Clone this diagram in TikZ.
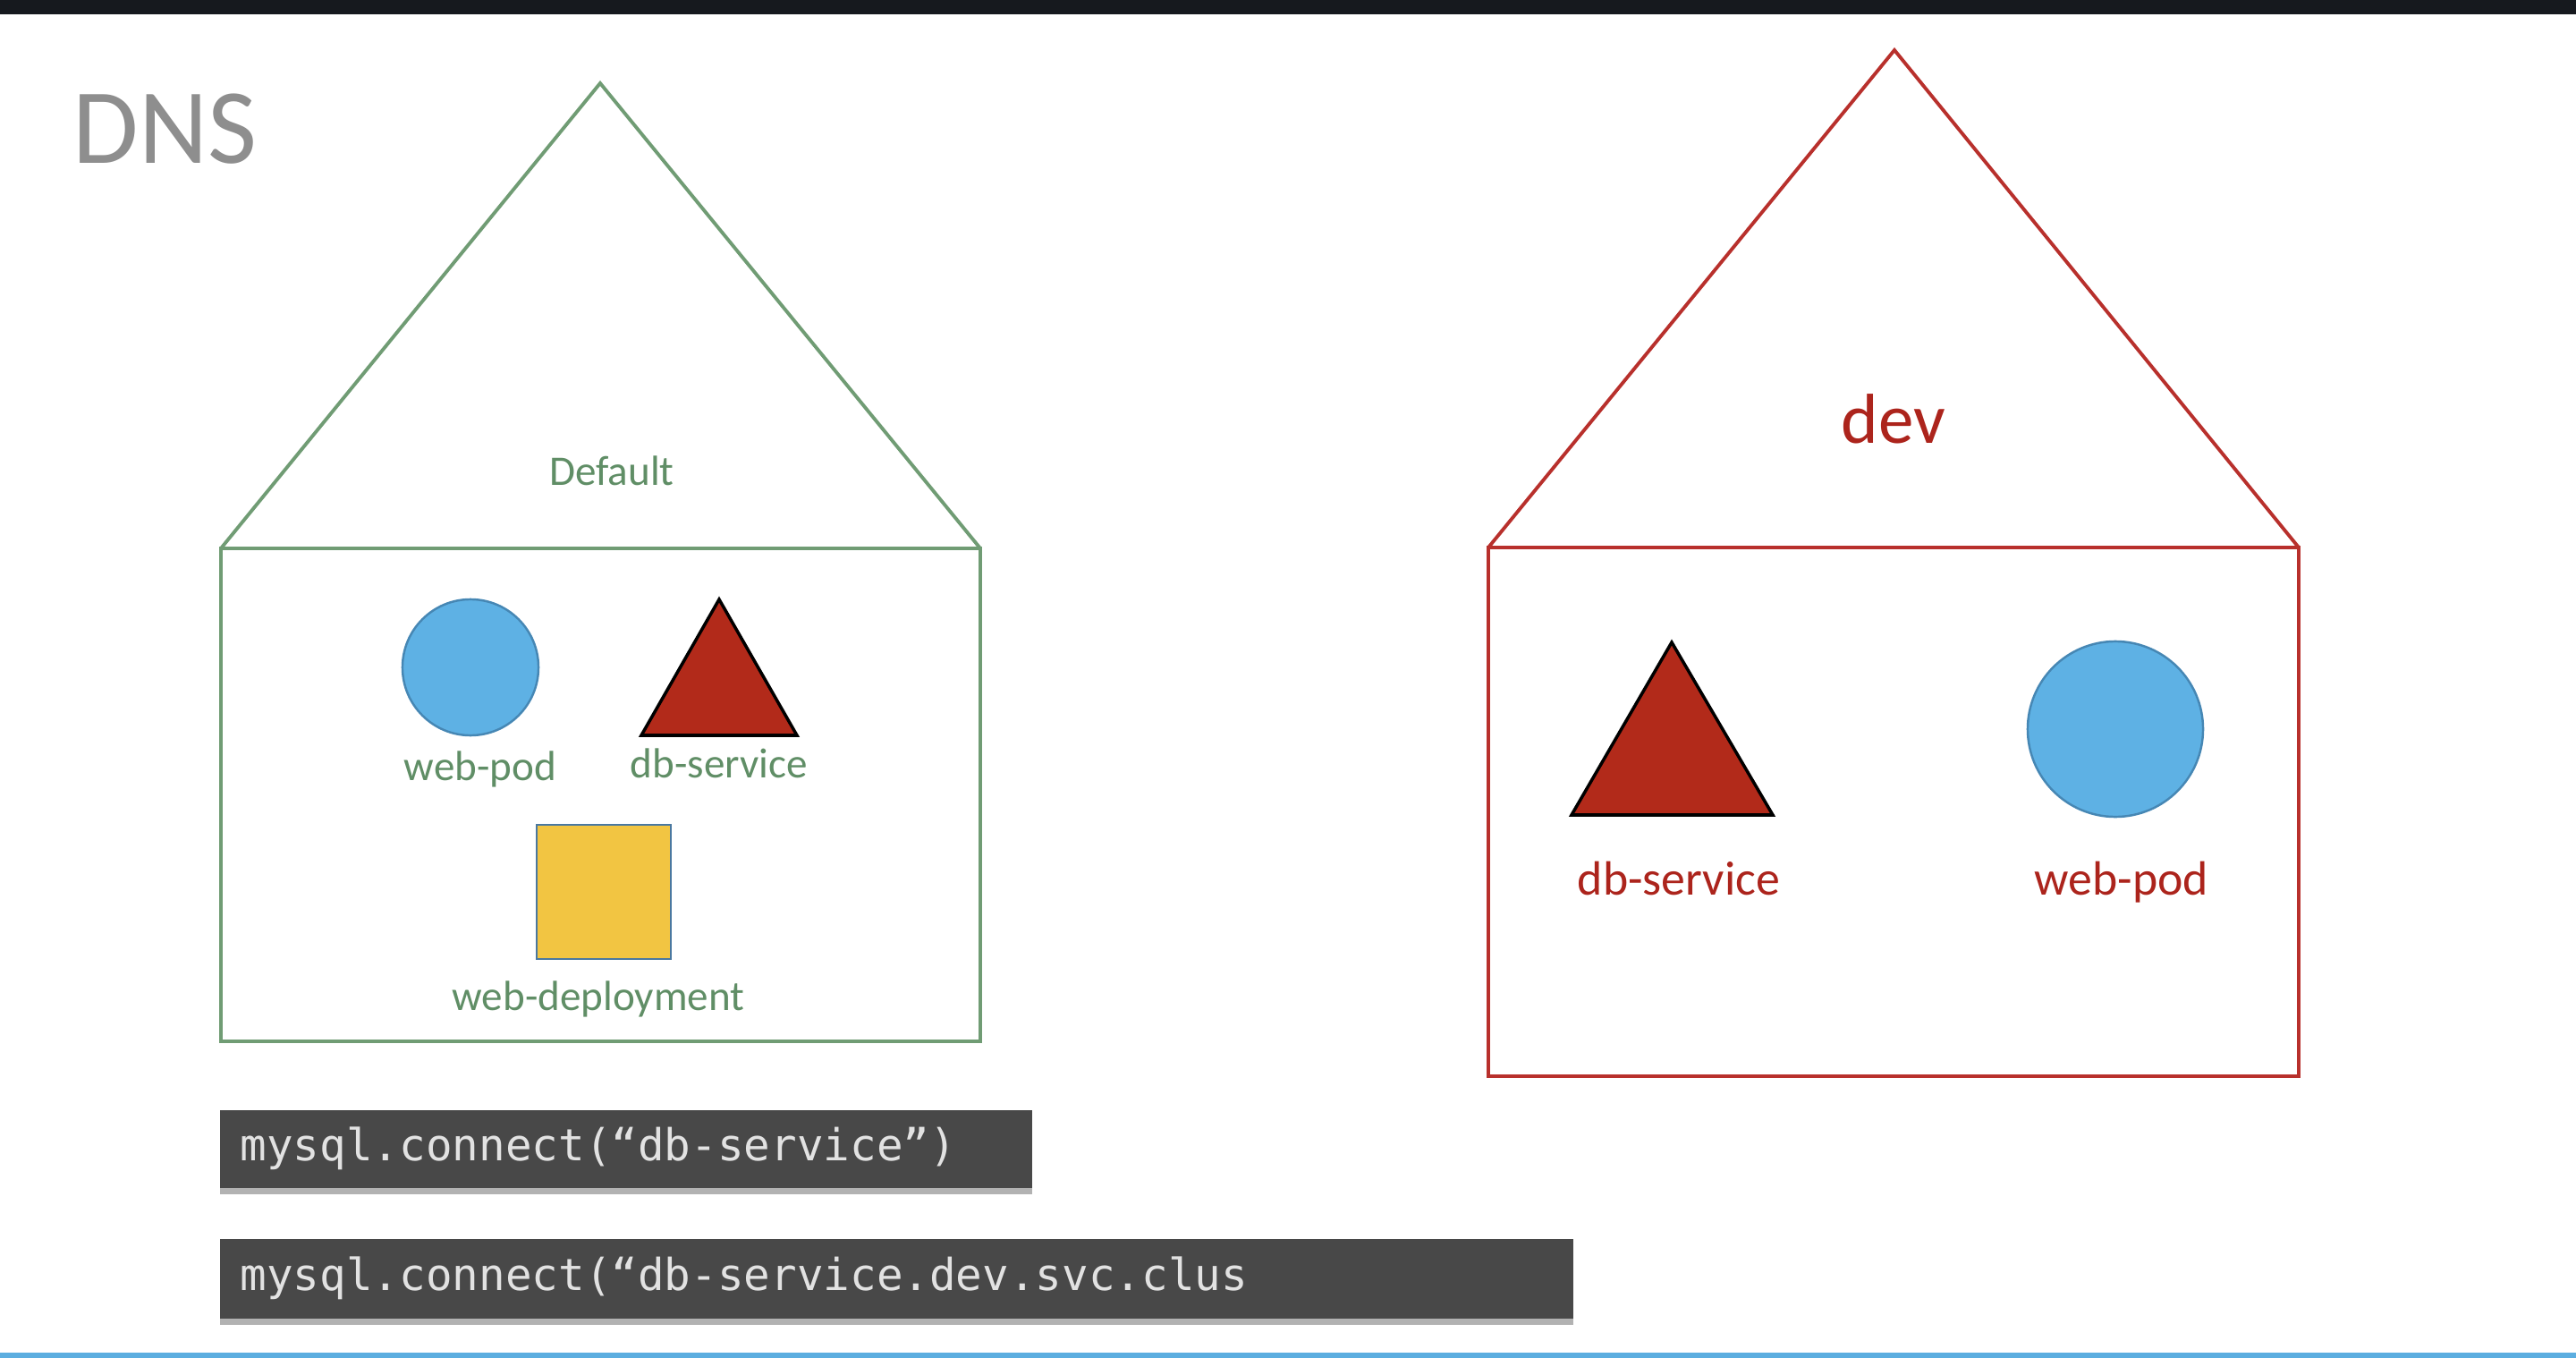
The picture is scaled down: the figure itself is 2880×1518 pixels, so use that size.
\documentclass[tikz,border=0pt]{standalone}
\usepackage{fontspec}
\setmainfont{Carlito}
\setmonofont{DejaVu Sans Mono}
\usetikzlibrary{shadows}

\definecolor{nsgreen}{RGB}{112,156,116}
\definecolor{nsgreentext}{RGB}{96,142,102}
\definecolor{nsred}{RGB}{184,48,44}
\definecolor{nsredtext}{RGB}{172,36,28}
\definecolor{podblue}{RGB}{94,177,228}
\definecolor{podedge}{RGB}{70,135,180}
\definecolor{svcred}{RGB}{178,42,26}
\definecolor{depyellow}{RGB}{242,197,66}
\definecolor{depedge}{RGB}{74,120,160}
\definecolor{codebg}{RGB}{72,72,72}
\definecolor{codefg}{RGB}{226,226,226}
\definecolor{bardark}{RGB}{22,25,30}
\definecolor{barblue}{RGB}{92,174,224}
\definecolor{titlegray}{RGB}{142,142,142}

\tikzset{
  nsline/.style={line width=1.1pt, line join=miter},
  podshape/.style={circle, fill=podblue, draw=podedge, line width=0.7pt, inner sep=0pt},
  svcshape/.style={fill=svcred, draw=black, line width=1pt, line join=miter},
  depshape/.style={rectangle, fill=depyellow, draw=depedge, line width=0.8pt, inner sep=0pt},
  smalllabel/.style={anchor=base, inner sep=0pt, text=nsgreentext, font=\fontsize{13.4}{16}\selectfont},
  biglabel/.style={anchor=base, inner sep=0pt, text=nsredtext, font=\fontsize{15.3}{18}\selectfont},
  codebox/.style={anchor=north west, fill=codebg, text=codefg, align=left,
    inner xsep=0.23cm, inner ysep=0pt, font=\ttfamily\fontsize{14}{17}\selectfont,
    drop shadow={shadow xshift=0pt, shadow yshift=-0.07cm, opacity=0.3, fill=black}}
}

\begin{document}
\begin{tikzpicture}[x=0.01cm, y=-0.01cm]
\useasboundingbox (0,0) rectangle (2880,1518);

% frame bars
\fill[bardark] (0,0) rectangle (2880,16);
\fill[barblue] (0,1512) rectangle (2880,1518);

% title
\node[anchor=base west, inner sep=0pt, text=titlegray, font=\fontsize{34}{40}\selectfont] (title) at (81,182) {DNS};

% default namespace house
\coordinate (defApex) at (671,93);
\coordinate (defTL) at (247,613);
\coordinate (defBR) at (1096,1164);
\draw[nsline, draw=nsgreen] (defTL) -- (defApex) -- (defTL -| defBR);
\draw[nsline, draw=nsgreen] (defTL) rectangle (defBR);
\node[smalllabel] (defName) at (684,542) {Default};

\node[podshape, minimum size=1.52cm] (defPod) at (526,746) {};
\coordinate (defSvcL) at (717,822);
\coordinate (defSvcT) at (804,670);
\coordinate (defSvcR) at (891,822);
\filldraw[svcshape] (defSvcL) -- (defSvcT) -- (defSvcR) -- cycle;
\node[depshape, minimum width=1.5cm, minimum height=1.5cm] (defDep) at (675,997) {};

\node[smalllabel] (defPodLbl) at (537,872) {web-pod};
\node[smalllabel] (defSvcLbl) at (804,869) {db-service};
\node[smalllabel] (defDepLbl) at (669,1129) {web-deployment};

% dev namespace house
\coordinate (devApex) at (2118,56);
\coordinate (devTL) at (1664,612);
\coordinate (devBR) at (2570,1203);
\draw[nsline, draw=nsred] (devTL) -- (devApex) -- (devTL -| devBR);
\draw[nsline, draw=nsred] (devTL) rectangle (devBR);
\node[anchor=base, inner sep=0pt, text=nsredtext, font=\fontsize{22.5}{27}\selectfont] (devName) at (2117,495) {dev};

\coordinate (devSvcL) at (1757,911);
\coordinate (devSvcT) at (1869,718);
\coordinate (devSvcR) at (1982,911);
\filldraw[svcshape] (devSvcL) -- (devSvcT) -- (devSvcR) -- cycle;
\node[podshape, minimum size=1.96cm] (devPod) at (2365,815) {};

\node[biglabel] (devSvcLbl) at (1877,1000) {db-service};
\node[biglabel] (devPodLbl) at (2372,1000) {web-pod};

% code snippets
\node[codebox, minimum height=0.87cm, text width=8.62cm] (code1) at (245,1240)
  {\raisebox{-0.04cm}{mysql.connect(“db-service”)}};
\node[codebox, minimum height=0.89cm, text width=14.66cm] (code2) at (245,1384)
  {\raisebox{-0.04cm}{mysql.connect(“db-service.dev.svc.clus}};
\end{tikzpicture}
\end{document}
